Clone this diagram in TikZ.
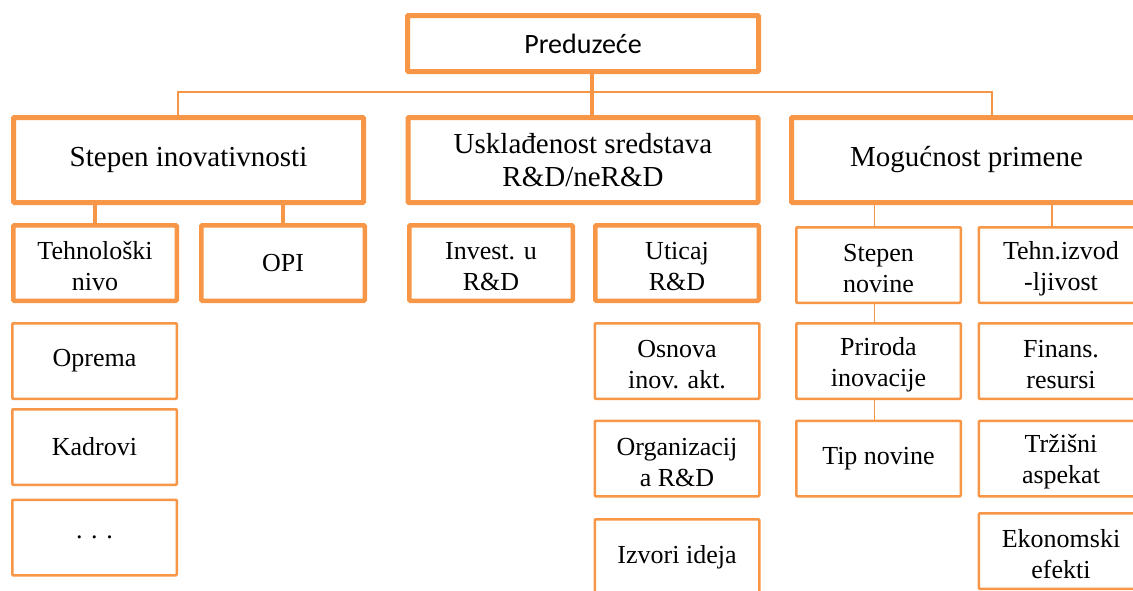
\documentclass[tikz,border=0pt]{standalone}
\usepackage{fontspec}
\setmainfont{Liberation Serif}
\newfontfamily\calibrifont{Carlito}
\definecolor{boxorange}{RGB}{247,150,70}
\newcommand\toppad{\rule{0pt}{25pt}}

\begin{document}
\begin{tikzpicture}[x=1pt,y=-1pt,
        topbox/.style={draw=boxorange,line width=5pt,fill=white,rounded corners=1pt,inner sep=0pt,minimum width=351pt,minimum height=56pt,font=\calibrifont\fontsize{28}{33}\selectfont},
        bigbox/.style={draw=boxorange,line width=5pt,fill=white,rounded corners=1pt,inner sep=0pt,align=center,minimum width=350pt,minimum height=85pt,font=\fontsize{29}{33}\selectfont},
        midbox/.style={draw=boxorange,line width=4.5pt,fill=white,rounded corners=1pt,inner sep=0pt,align=center,minimum width=163.5pt,minimum height=75.5pt,font=\fontsize{26}{31}\selectfont},
        smallbox/.style={draw=boxorange,line width=2.5pt,fill=white,rounded corners=1pt,inner sep=0pt,align=center,minimum width=164.5pt,minimum height=75.5pt,font=\fontsize{26}{31}\selectfont},
        thickline/.style={draw=boxorange,line width=4pt},
        thinline/.style={draw=boxorange,line width=1.5pt}]
        \clip (0,0) rectangle (1133,590);
        % top level
        \node[topbox] (pred) at (583,43.5) {Preduzeće};
        \node[bigbox] (stepen) at (188.5,160) {Stepen inovativnosti};
        \node[bigbox] (uskl) at (583,160) {Usklađenost sredstava\\R\&D/neR\&D};
        \node[bigbox] (mog) at (966.5,160) {Mogućnost primene};
        % second level
        \node[midbox] (tehno) at (95,263) {\toppad Tehnološki\\nivo};
        \node[midbox] (opi) at (283,263) {OPI};
        \node[midbox] (invest) at (491,263) {\toppad Invest. u\\R\&D};
        \node[midbox] (uticaj) at (677,263) {\toppad Uticaj\\R\&D};
        \node[smallbox] (stepnov) at (878.5,265) {\toppad Stepen\\novine};
        \node[smallbox] (tehniz) at (1061,265) {\toppad Tehn.izvod\\-ljivost};
        % lists
        \node[smallbox] (oprema) at (94.5,361) {Oprema};
        \node[smallbox] (kadrovi) at (94.5,447) {Kadrovi};
        \node[smallbox] (ostalo) at (94.5,537.5) {. . .};
        \node[smallbox] (osnova) at (677,361) {\toppad Osnova\\inov. akt.};
        \node[smallbox] (organiz) at (677,458.5) {\toppad Organizacij\\a R\&D};
        \node[smallbox] (izvori) at (677,557) {Izvori ideja};
        \node[smallbox] (priroda) at (878.5,361) {\toppad Priroda\\inovacije};
        \node[smallbox] (tipnov) at (878.5,458.5) {Tip novine};
        \node[smallbox] (finans) at (1061,361) {\toppad Finans.\\resursi};
        \node[smallbox] (trzisni) at (1061,458.5) {\toppad Tržišni\\aspekat};
        \node[smallbox] (ekon) at (1061,551) {\toppad Ekonomski\\efekti};
        % connectors
        \coordinate (busl) at (178,92);
        \coordinate (busr) at (992,92);
        \draw[thinline] (stepen.north -| busl) -- (busl) -- (busr) -- (busr |- mog.north);
        \draw[thickline] ([xshift=9pt]pred.south) -- ([xshift=9pt]pred.south |- uskl.north);
        \draw[thickline] (tehno.north |- stepen.south) -- (tehno.north);
        \draw[thickline] (opi.north |- stepen.south) -- (opi.north);
        \draw[thinline] ([xshift=-4pt]stepnov.north |- mog.south) -- ([xshift=-4pt]stepnov.north);
        \draw[thinline] ([xshift=-9pt]tehniz.north |- mog.south) -- ([xshift=-9pt]tehniz.north);
        \draw[thinline] ([xshift=-4pt]stepnov.south) -- ([xshift=-4pt]priroda.north);
        \draw[thinline] ([xshift=-4pt]priroda.south) -- ([xshift=-4pt]tipnov.north);
\end{tikzpicture}
\end{document}
